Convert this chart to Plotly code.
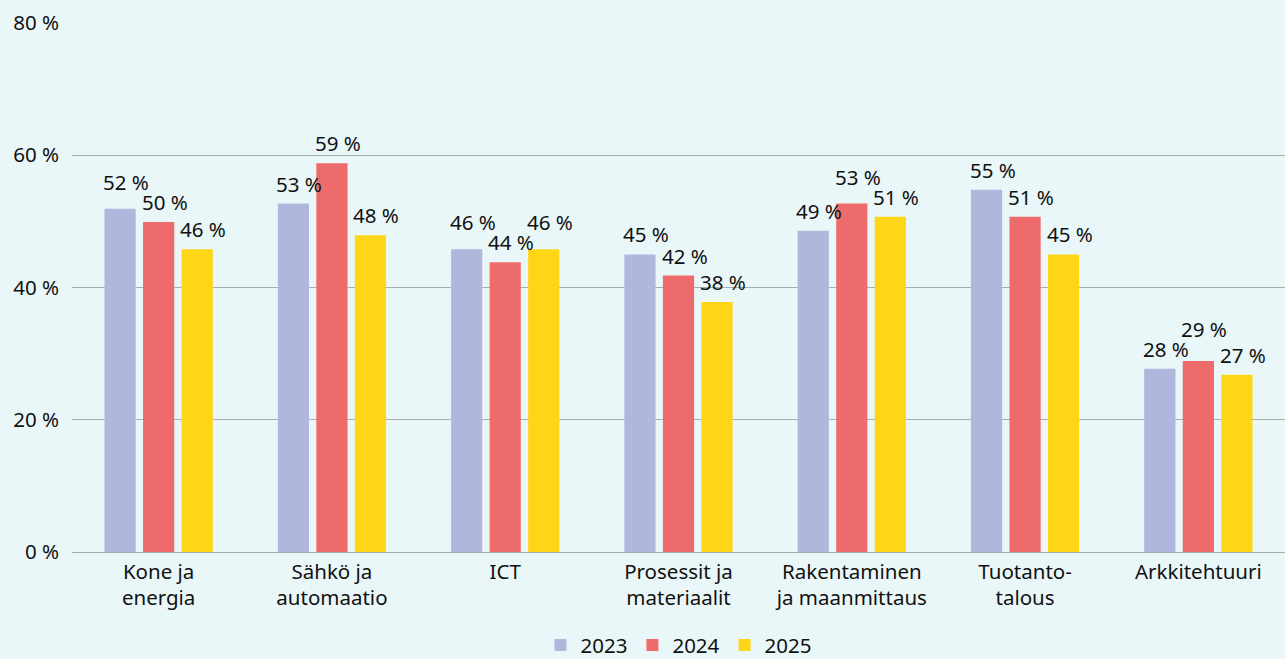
import plotly.graph_objects as go

categories = ["Kone ja<br>energia", "Sähkö ja<br>automaatio", "ICT", "Prosessit ja<br>materiaalit",
              "Rakentaminen<br>ja maanmittaus", "Tuotanto-<br>talous", "Arkkitehtuuri"]
years = ["2023", "2024", "2025"]
v2023 = [51.9, 52.7, 45.8, 45.0, 48.6, 54.8, 27.7]
v2024 = [49.9, 58.8, 43.8, 41.8, 52.7, 50.7, 28.9]
v2025 = [45.8, 47.9, 45.8, 37.8, 50.7, 45.0, 26.8]
colors = ["#b0b6dc", "#ee6b6c", "#ffd517"]
yticks = [0, 20, 40, 60, 80]

FONT = "Noto Sans"
FS = 20.5
W, H = 1285, 659
M = dict(l=72, r=0, t=23, b=107)
BARGAP = 0.333
YMAX = 80

series = [v2023, v2024, v2025]
fig = go.Figure()
for name, vals, col in zip(years, series, colors):
    fig.add_trace(go.Bar(x=categories, y=vals, name=name,
                         marker=dict(color=col, line=dict(width=0)), hoverinfo="skip"))

# data labels with simple collision avoidance (lift overlapping labels)
ppu = (H - M["t"] - M["b"]) / YMAX
gap, lab_h = 10, 20
slot = (1 - BARGAP) / len(series)
for i in range(len(categories)):
    vals = [s[i] for s in series]
    p = [v * ppu + gap for v in vals]
    for k in range(1, len(p)):
        if abs(p[k] - p[k - 1]) < lab_h:
            if p[k - 1] >= p[k]:
                p[k - 1] = p[k] + lab_h
            else:
                p[k] = p[k - 1] + lab_h
    for k, v in enumerate(vals):
        fig.add_annotation(x=i + (k - 1) * slot, y=v, xref="x", yref="y",
                           text=f"{round(v)} %", showarrow=False, yanchor="bottom",
                           yshift=p[k] - v * ppu - 6, xshift=6,
                           font=dict(family=FONT, size=FS, color="#111111"))

fig.update_layout(
    width=W, height=H,
    paper_bgcolor="#eaf7f8", plot_bgcolor="#eaf7f8",
    margin=dict(**M, autoexpand=False),
    barmode="group", bargap=BARGAP, bargroupgap=0.19,
    font=dict(family=FONT, size=FS, color="#111111"),
    legend=dict(orientation="h", x=0.5, xanchor="center", yref="container", y=0.021, yanchor="middle",
                font=dict(family=FONT, size=FS), itemwidth=30, traceorder="normal"),
)
fig.update_yaxes(range=[0, YMAX], tickvals=yticks, ticktext=[f"{t} %" for t in yticks],
                 showgrid=True, gridcolor="#a8adb0", gridwidth=1, zeroline=False,
                 showline=False, ticks="", ticklabelstandoff=12, fixedrange=True)
fig.update_xaxes(showline=True, linecolor="#a8adb0", linewidth=1, ticks="", tickfont=dict(size=FS),
                 ticklabelstandoff=1)

fig.write_html("out.html", config={"displayModeBar": False},
               post_script="document.body.style.margin='0';document.body.style.background='#eaf7f8';")
